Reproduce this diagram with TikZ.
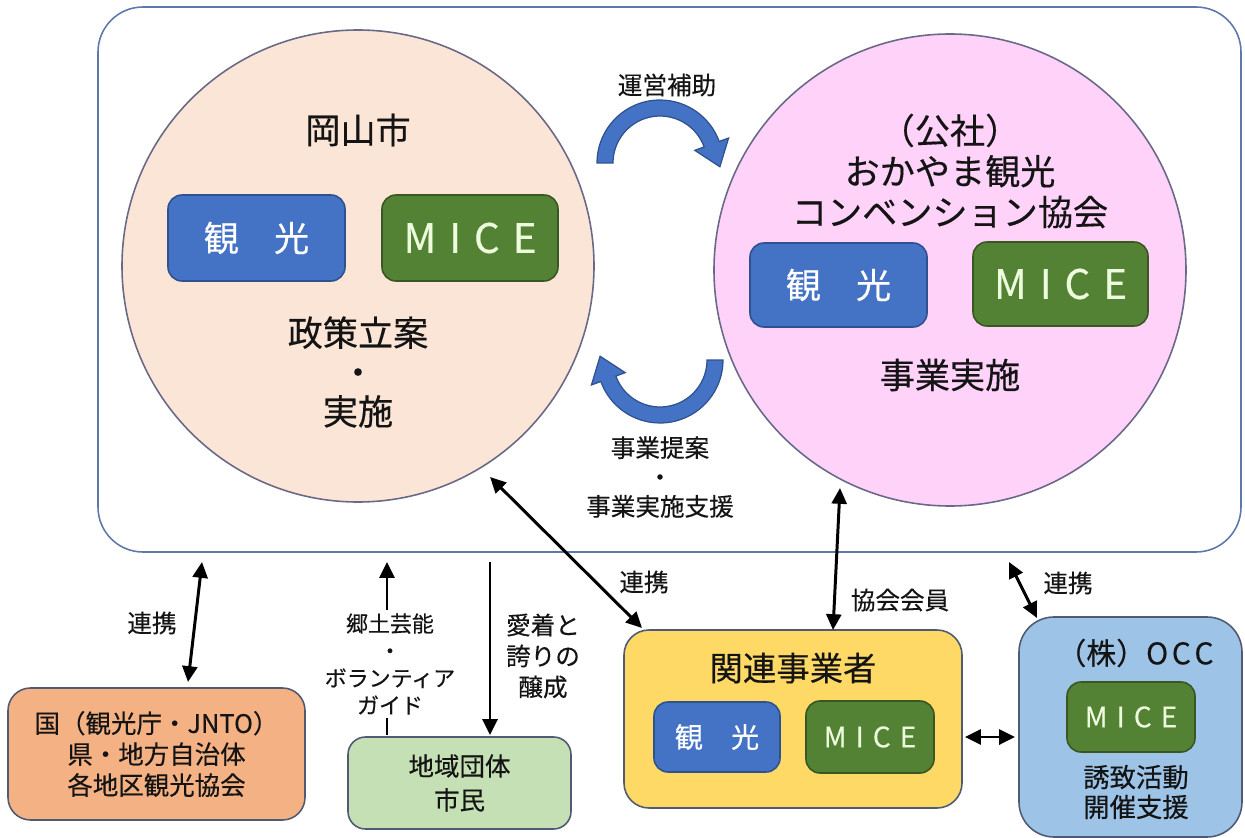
\documentclass[tikz,border=0pt]{standalone}
\usepackage{fontspec}
\setmainfont{Noto Sans CJK JP}[FakeBold=0.35]
\usetikzlibrary{arrows.meta}
\definecolor{framec}{RGB}{95,120,170}
\definecolor{circc}{RGB}{105,105,135}
\definecolor{cityc}{RGB}{251,229,214}
\definecolor{assocc}{RGB}{255,210,250}
\definecolor{kblue}{RGB}{68,114,196}
\definecolor{kbluedark}{RGB}{47,82,143}
\definecolor{mgreen}{RGB}{84,130,53}
\definecolor{mgreendark}{RGB}{56,87,35}
\definecolor{micec}{RGB}{238,252,222}
\definecolor{orangec}{RGB}{244,177,131}
\definecolor{lgreenc}{RGB}{197,224,180}
\definecolor{goldc}{RGB}{255,217,102}
\definecolor{lbluec}{RGB}{157,195,230}
\definecolor{boxc}{RGB}{80,90,115}
\definecolor{txtc}{RGB}{20,20,20}
\newcommand\micetext{M\hspace{0.32em}I\hspace{0.32em}C\hspace{0.32em}E}
\def\pxu{0.02cm}
\begin{document}
\begin{tikzpicture}[x=0.02cm,y=-0.02cm,
  every node/.style={inner sep=0pt, align=center, text=txtc},
  frame/.style={draw=framec, line width=0.9pt, rounded corners=0.9cm},
  bigcircle/.style={circle, draw=circc, line width=0.9pt},
  kbox/.style={draw=kbluedark, fill=kblue, line width=0.9pt, rounded corners=0.28cm, text=white},
  mbox/.style={draw=mgreendark, fill=mgreen, line width=0.9pt, rounded corners=0.28cm, text=micec},
  outerbox/.style={draw=boxc, line width=0.9pt},
  con/.style={line width=1.7pt, draw=black},
  onehead/.style={-{Triangle[length=9pt,width=8.5pt]}},
  twohead/.style={{Triangle[length=9pt,width=8.5pt]}-{Triangle[length=9pt,width=8.5pt]}},
  bendarrow/.style={fill=kblue, draw=kbluedark, line width=0.7pt},
  lab/.style={font=\fontsize{14}{16.7}\selectfont},
]
\useasboundingbox (0,0) rectangle (1245,838);

% main frame
\node[frame, minimum width=1143*\pxu, minimum height=545*\pxu] (main) at (669.5,279.5) {};

% circles
\node[bigcircle, fill=cityc, minimum size=472*\pxu] (city) at (358,266) {};
\node[bigcircle, fill=assocc, minimum size=472*\pxu] (assoc) at (950,270) {};

% city contents
\node[font=\fontsize{20}{23}\selectfont] (cityT) at (358,130) {岡山市};
\node[kbox, minimum width=177*\pxu, minimum height=86*\pxu, font=\fontsize{20}{23}\selectfont] (cityK) at (256.5,238) {観　光};
\node[mbox, minimum width=176*\pxu, minimum height=86*\pxu, font=\fontsize{23}{26}\selectfont] (cityM) at (470,238) {\micetext};
\node[font=\fontsize{20}{22.4}\selectfont] (cityP) at (358,372) {政策立案\\・\\実施};

% association contents
\node[font=\fontsize{20}{23.2}\selectfont] (assocT) at (950,171) {（公社）\\おかやま観光\\コンベンション協会};
\node[kbox, minimum width=177*\pxu, minimum height=84*\pxu, font=\fontsize{20}{23}\selectfont] (assocK) at (838.5,285) {観　光};
\node[mbox, minimum width=175*\pxu, minimum height=84*\pxu, font=\fontsize{23}{26}\selectfont] (assocM) at (1060.5,284) {\micetext};
\node[font=\fontsize{20}{23}\selectfont] (assocS) at (950,375) {事業実施};

% curved block arrows
\begin{scope}[shift={(660,163)}]
  \draw[bendarrow] (180:1.26cm) arc[start angle=180, end angle=20, radius=1.26cm]
    -- (20:1.46cm) -- (1.198cm,-0.075cm) -- (20:0.74cm) -- (20:0.94cm)
    arc[start angle=20, end angle=180, radius=0.94cm] -- cycle;
\end{scope}
\begin{scope}[shift={(660,360)}]
  \draw[bendarrow] (0:1.26cm) arc[start angle=0, end angle=-160, radius=1.26cm]
    -- (-160:1.46cm) -- (-1.198cm,0.075cm) -- (-160:0.74cm) -- (-160:0.94cm)
    arc[start angle=-160, end angle=0, radius=0.94cm] -- cycle;
\end{scope}
\node[lab] (lsub) at (667,85) {運営補助};
\node[font=\fontsize{14}{16.7}\selectfont] (lprop) at (660,477) {事業提案\\・\\事業実施支援};

% bottom boxes
\node[outerbox, fill=orangec, rounded corners=0.45cm, minimum width=297*\pxu, minimum height=132*\pxu,
      font=\fontsize{14.5}{17.6}\selectfont] (nat) at (156.5,754) {国（観光庁・JNTO）\\県・地方自治体\\各地区観光協会};
\node[outerbox, fill=lgreenc, rounded corners=0.35cm, minimum width=223*\pxu, minimum height=92*\pxu,
      font=\fontsize{14.5}{19.3}\selectfont] (local) at (459.5,783) {地域団体\\市民};
\node[outerbox, fill=goldc, rounded corners=0.5cm, minimum width=338*\pxu, minimum height=178*\pxu] (biz) at (793,719) {};
\node[font=\fontsize{19}{22}\selectfont] (bizT) at (793,668) {関連事業者};
\node[kbox, minimum width=126*\pxu, minimum height=70*\pxu, font=\fontsize{16}{19}\selectfont] (bizK) at (717,737) {観　光};
\node[mbox, minimum width=128*\pxu, minimum height=72*\pxu, font=\fontsize{16}{19}\selectfont] (bizM) at (870,737) {\micetext};
\node[outerbox, fill=lbluec, rounded corners=0.7cm, minimum width=223*\pxu, minimum height=220*\pxu] (occ) at (1130.5,727) {};
\node[font=\fontsize{17}{20}\selectfont] (occT) at (1135,653) {（株）O\hspace{0.12em}C\hspace{0.12em}C};
\node[mbox, minimum width=128*\pxu, minimum height=70*\pxu, font=\fontsize{16}{19}\selectfont] (occM) at (1131,717) {\micetext};
\node[font=\fontsize{15}{17}\selectfont] (occS) at (1136,792) {誘致活動\\開催支援};

% connector end points
\coordinate (a1) at (202,562); \coordinate (a2) at (188,682);
\coordinate (g1) at (387,735); \coordinate (g2) at (387,562);
\coordinate (h1) at (490,562); \coordinate (h2) at (490,735);
\coordinate (d1) at (490,477); \coordinate (d2) at (642,628);
\coordinate (v1) at (840,488); \coordinate (v2) at (833,630);
\coordinate (r1) at (1009,562); \coordinate (r2) at (1037,618);
\coordinate (x1) at (965,737); \coordinate (x2) at (1015,737);

\draw[con,twohead] (a1) -- (a2);
\draw[con,onehead] (g1) -- (g2);
\draw[con,onehead] (h1) -- (h2);
\draw[con,twohead] (d1) -- (d2);
\draw[con,twohead] (v1) -- (v2);
\draw[con,twohead] (r1) -- (r2);
\draw[con,twohead] (x1) -- (x2);

% connector labels
\node[lab] (l1) at (152,623) {連携};
\node[fill=white, inner sep=2pt, font=\fontsize{12.5}{15.5}\selectfont] (l2) at (390,664) {郷土芸能\\・\\ボランティア\\ガイド};
\node[font=\fontsize{14}{17.6}\selectfont] (l3) at (543,656) {愛着と\\誇りの\\醸成};
\node[lab] (l4) at (644,582) {連携};
\node[lab] (l5) at (900,600) {協会会員};
\node[lab] (l6) at (1068,583) {連携};
\end{tikzpicture}
\end{document}
